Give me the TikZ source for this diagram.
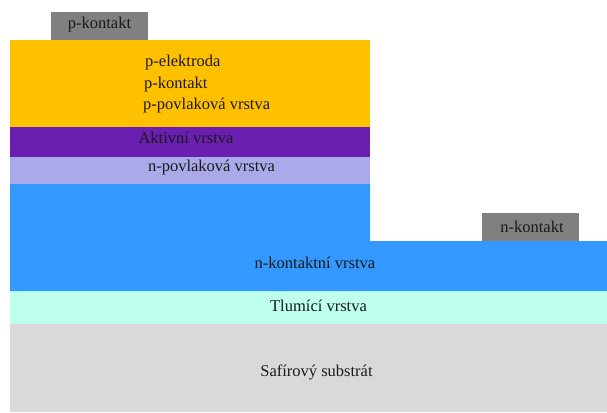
\documentclass[tikz,border=0pt]{standalone}
\usepackage{fontspec}
\setmainfont{Liberation Serif}
\definecolor{cOrange}{HTML}{FFC000}
\definecolor{cPurple}{HTML}{6A1FB0}
\definecolor{cLav}{HTML}{AAAAEA}
\definecolor{cBlue}{HTML}{3399FF}
\definecolor{cMint}{HTML}{BFFFEE}
\definecolor{cGray}{HTML}{D9D9D9}
\definecolor{cCont}{HTML}{808080}
\definecolor{cText}{HTML}{1A1A1A}
\begin{document}
\begin{tikzpicture}[x=1pt,y=-1pt,
  lbl/.style={text=cText,font=\fontsize{16.5}{21.5}\selectfont,inner sep=0pt},
  layer/.style={draw=none}]
\useasboundingbox (0,0) rectangle (607,412);
\fill[white] (0,0) rectangle (607,412);
% layers
\fill[cGray] (10,324) rectangle (607,412);
\fill[cMint] (10,291) rectangle (607,324);
\fill[cBlue] (10,184) -- (370,184) -- (370,241) -- (607,241) -- (607,291) -- (10,291) -- cycle;
\fill[cLav] (10,157) rectangle (370,184);
\fill[cPurple] (10,127) rectangle (370,157);
\fill[cOrange] (10,40) rectangle (370,127);
\fill[cCont] (51,12) rectangle (148,40);
\fill[cCont] (482,213) rectangle (579,241);
% labels
\node[lbl] (pk) at (99.5,25) {p-kontakt};
\node[lbl] (nk) at (532,227) {n-kontakt};
\node[lbl,anchor=west] (pe) at (145,63) {p-elektroda};
\node[lbl,anchor=west] (pk2) at (144,85) {p-kontakt};
\node[lbl,anchor=west] (pp) at (143,106) {p-povlaková vrstva};
\node[lbl] (ak) at (186,138) {Aktivní vrstva};
\node[lbl] (np) at (211.5,168) {n-povlaková vrstva};
\node[lbl] (nkv) at (315,263) {n-kontaktní vrstva};
\node[lbl] (tl) at (318.5,306) {Tlumící vrstva};
\node[lbl] (sf) at (316.5,372) {Safírový substrát};
\end{tikzpicture}
\end{document}
